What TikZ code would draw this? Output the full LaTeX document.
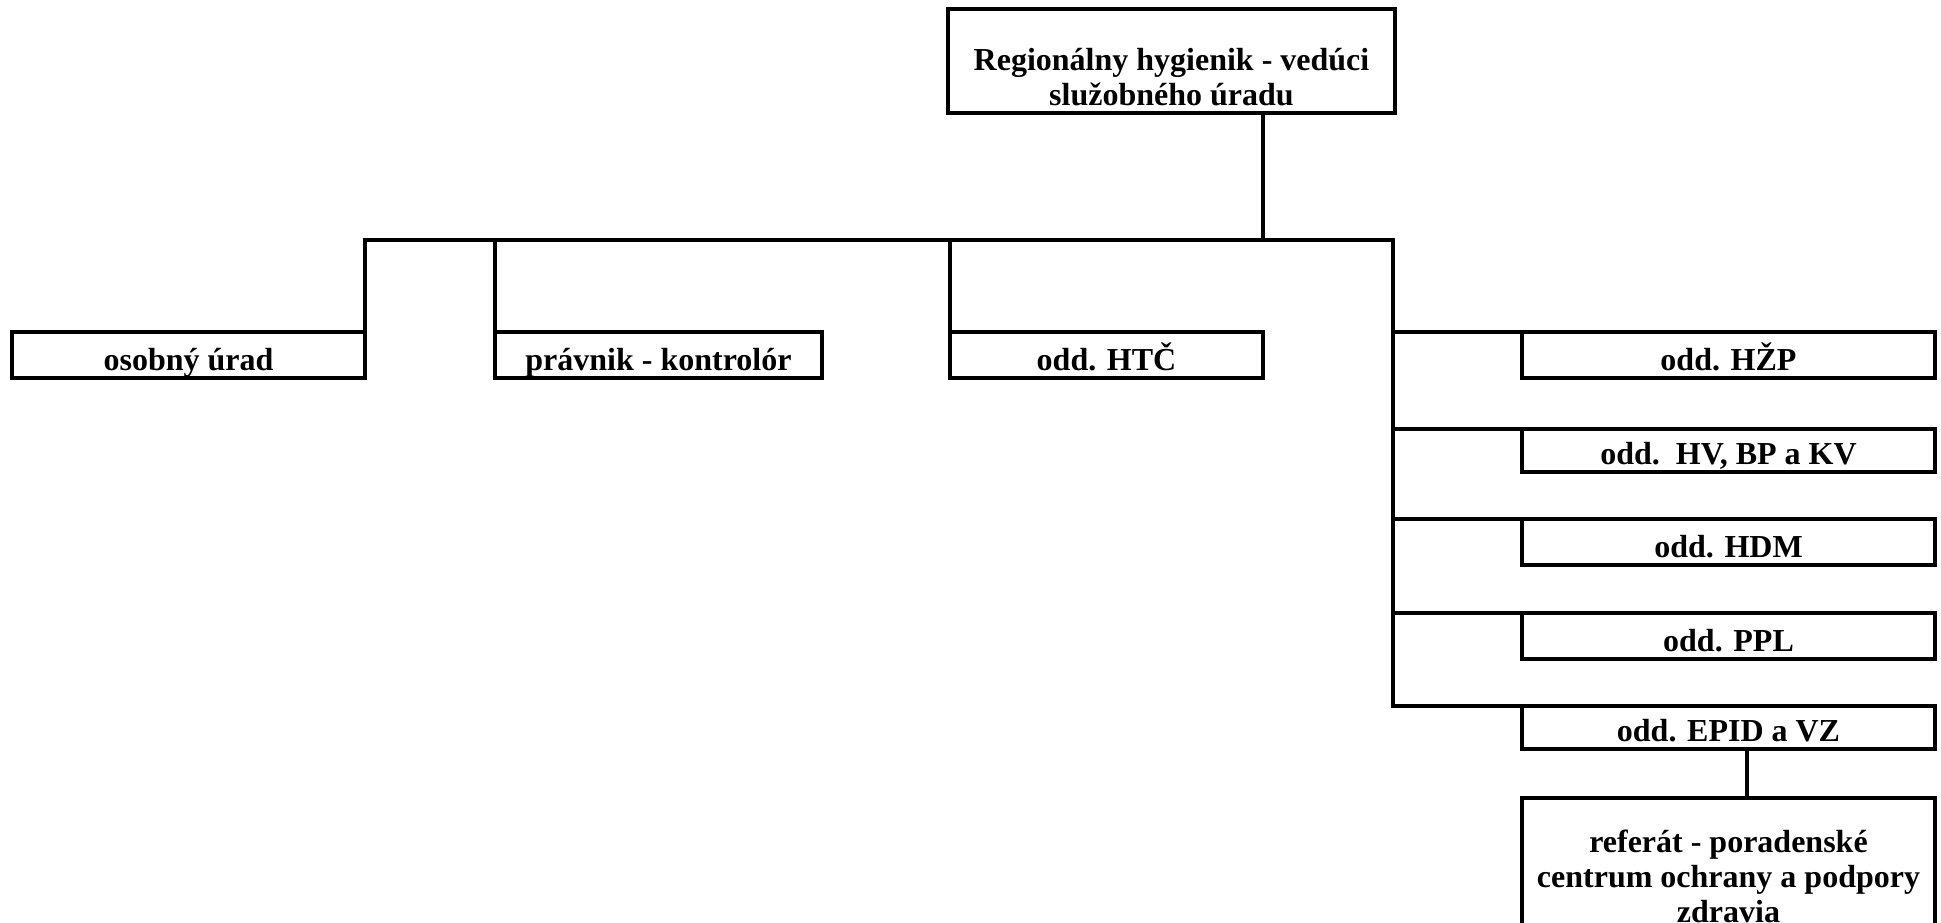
\documentclass[tikz,border=0pt]{standalone}
\usepackage{fontspec}
\setmainfont{Liberation Serif}
\begin{document}
\begin{tikzpicture}[x=1pt,y=-1pt,
  box/.style={draw, line width=3.4pt, rectangle, inner sep=0pt, outer sep=0pt, font=\bfseries\fontsize{32}{35}\selectfont},
  single/.style={box, text height=38.5pt, text depth=7.5pt},
  slim/.style={box, text height=35.5pt, text depth=7.5pt},
  conn/.style={line width=3.4pt, line cap=rect}]
\useasboundingbox (0,0) rectangle (1941,923);
\node[box, minimum width=447pt, text height=61.5pt, text depth=42.5pt] (top) at (1171.5,61) {\begin{tabular}[t]{@{}c@{}}Regionálny hygienik - vedúci\\služobného úradu\end{tabular}};
\node[single, minimum width=353pt] (osob) at (188.5,355) {osobný úrad};
\node[single, minimum width=327pt] (prav) at (658.5,355) {právnik - kontrolór};
\node[single, minimum width=313pt] (htc) at (1106.5,355) {odd. HTČ};
\node[single, minimum width=413pt] (hzp) at (1728.5,355) {odd. HŽP};
\node[slim, minimum width=413pt] (hv) at (1728.5,450.5) {odd.\ \ HV, BP a KV};
\node[single, minimum width=413pt] (hdm) at (1728.5,542) {odd. HDM};
\node[single, minimum width=413pt] (ppl) at (1728.5,636) {odd. PPL};
\node[slim, minimum width=413pt] (epid) at (1728.5,727.5) {odd. EPID a VZ};
\node[box, minimum width=413pt, text height=54pt, text depth=116pt] (ref) at (1728.5,883) {\begin{tabular}[t]{@{}c@{}}referát - poradenské\\centrum ochrany a podpory\\zdravia\end{tabular}};
\coordinate (j0) at (1263,240);
\coordinate (rtop) at (1393,240);
\draw[conn] (j0 |- top.south) -- (j0);
\draw[conn] (osob.north east) -- (osob.north east |- j0) -- (rtop) -- (rtop |- epid.north west) -- (epid.north west);
\draw[conn] (prav.north west) -- (prav.north west |- j0);
\draw[conn] (htc.north west) -- (htc.north west |- j0);
\foreach \b in {hzp,hv,hdm,ppl}{\draw[conn] (rtop |- \b.north west) -- (\b.north west);}
\draw[conn] ([xshift=18.5pt]epid.south) -- ([xshift=18.5pt]epid.south |- ref.north);
\end{tikzpicture}
\end{document}
